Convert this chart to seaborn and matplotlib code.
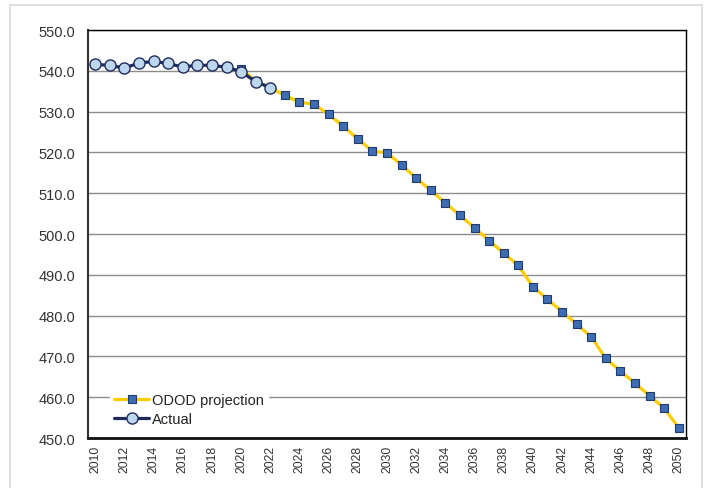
import matplotlib
matplotlib.use("Agg")
import matplotlib.pyplot as plt
import seaborn as sns
import pandas as pd
from matplotlib.patches import Rectangle

actual_years = list(range(2010, 2023))
actual_values = [541.6, 541.3, 540.7, 541.9, 542.3, 541.8, 540.9, 541.4, 541.3, 540.9,
                 539.8, 537.3, 535.9]

proj_years = list(range(2020, 2051))
proj_values = [540.4, 537.5, 535.8, 534.0, 532.3, 531.8, 529.3, 526.4, 523.3, 520.3,
               519.9, 516.9, 513.7, 510.7, 507.6, 504.6, 501.5, 498.4, 495.3, 492.3,
               487.1, 484.0, 481.0, 477.9, 474.8, 469.5, 466.4, 463.4, 460.4, 457.3,
               452.5]

y_ticks = [450, 460, 470, 480, 490, 500, 510, 520, 530, 540, 550]
x_ticks = list(range(2010, 2051, 2))

sns.set_style("white")
plt.rcParams['font.family'] = ['Liberation Sans', 'DejaVu Sans']

fig = plt.figure(figsize=(7.05, 4.89), dpi=100)
fig.patches.append(Rectangle((10 / 705, -0.05), 692 / 705, (489 - 6) / 489 + 0.05,
                             transform=fig.transFigure, fill=False,
                             edgecolor="#D9D9D9", linewidth=1.2))
ax = fig.add_axes([88 / 705, 50 / 489, 598 / 705, 408 / 489])

proj_df = pd.DataFrame({"year": proj_years, "value": proj_values})
act_df = pd.DataFrame({"year": actual_years, "value": actual_values})

sns.lineplot(data=proj_df, x="year", y="value", ax=ax, color="#FFCC00", linewidth=2.3,
             marker="s", markersize=5.5, markerfacecolor="#3F6DB3",
             markeredgecolor="#1F3A6E", markeredgewidth=0.8,
             label="ODOD projection", zorder=3)
sns.lineplot(data=act_df, x="year", y="value", ax=ax, color="#1F2B5C", linewidth=2.3,
             marker="o", markersize=8, markerfacecolor="#BDD7EE",
             markeredgecolor="#1F2B5C", markeredgewidth=1.0,
             label="Actual", zorder=4)

ax.set_xlim(2009.5, 2050.5)
ax.set_ylim(450, 550)
ax.set_yticks(y_ticks)
ax.set_yticklabels([f"{v:.1f}" for v in y_ticks], fontsize=10.5, color="#333333")
ax.set_xticks(x_ticks)
ax.set_xticklabels([str(v) for v in x_ticks], rotation=90, fontsize=8.8, color="#333333")
ax.tick_params(axis="y", length=0, pad=9)
ax.tick_params(axis="x", length=0, pad=5)
ax.set_xlabel("")
ax.set_ylabel("")

ax.yaxis.grid(True, color="#8C8C8C", linewidth=1.0)
ax.xaxis.grid(False)
ax.set_axisbelow(True)
for side in ["top", "right"]:
    ax.spines[side].set_color("#000000")
    ax.spines[side].set_linewidth(1.0)
ax.spines["left"].set_color("#333333")
ax.spines["left"].set_linewidth(1.5)
ax.spines["bottom"].set_color("#111111")
ax.spines["bottom"].set_linewidth(2.0)

leg = ax.legend(loc="lower left", bbox_to_anchor=(22 / 598, 0.018), frameon=True,
                fontsize=10.5, handlelength=2.4, handletextpad=0.15,
                borderaxespad=0.0, labelspacing=0.35, borderpad=0.3, numpoints=1)
leg.get_frame().set_facecolor("white")
leg.get_frame().set_edgecolor("white")
leg.get_frame().set_alpha(1)
leg.get_frame().set_boxstyle("square", pad=0)
for t in leg.get_texts():
    t.set_color("#222222")
leg.set_zorder(5)

fig.savefig("out.png", dpi=100)
